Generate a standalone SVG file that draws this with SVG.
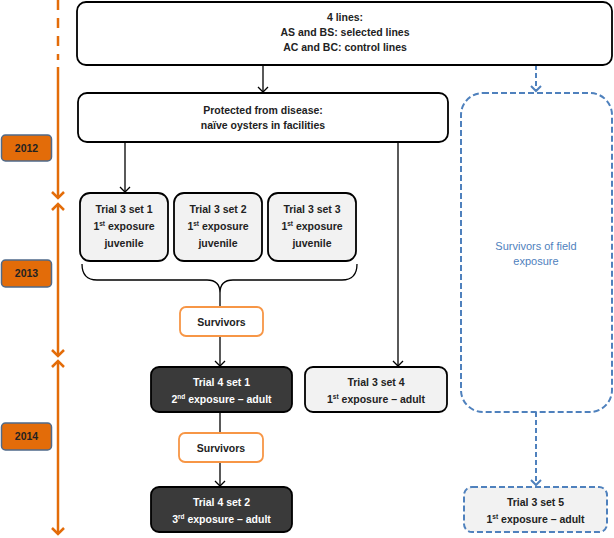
<svg xmlns="http://www.w3.org/2000/svg" width="614" height="538" viewBox="0 0 614 538">
<style>
  text { font-family: "Liberation Sans", Arial, sans-serif; font-weight: bold; font-size: 10.5px; text-anchor: middle; fill: #222; }
  .box { fill: #fff; stroke: #000; stroke-width: 1.8; }
  .trial { fill: #f2f2f2; stroke: #000; stroke-width: 1.8; }
  .dark { fill: #3a3a3a; stroke: #000; stroke-width: 1.8; }
  .dark-t { fill: #fff; }
  .surv { fill: #fff; stroke: #f79646; stroke-width: 1.8; }
  .field { fill: #fff; stroke: #4f81bd; stroke-width: 2; stroke-dasharray: 6,3; }
  .field-t { fill: #4f81bd; font-weight: normal; font-size: 11px; }
  .year { fill: #e36c09; stroke: #4f6a8a; stroke-width: 1.5; }
  .year-t { fill: #222; }
  .conn { fill: none; stroke: #000; stroke-width: 1.3; }
  .bconn { fill: none; stroke: #4f81bd; stroke-width: 2; stroke-dasharray: 5,3; }
  .tl { fill: none; stroke: #e36c09; stroke-width: 2.5; }
  .sup { font-size: 6.5px; }
</style>
<defs>
  <marker id="ah" markerUnits="userSpaceOnUse" markerWidth="12" markerHeight="12" refX="6" refY="6" orient="auto-start-reverse" viewBox="0 0 12 12">
    <path d="M1,1 L6,6 L1,11" fill="none" stroke="#000" stroke-width="1.3"/>
  </marker>
  <marker id="bh" markerUnits="userSpaceOnUse" markerWidth="12" markerHeight="12" refX="6" refY="6" orient="auto-start-reverse" viewBox="0 0 12 12">
    <path d="M1,1 L6,6 L1,11" fill="none" stroke="#4f81bd" stroke-width="2"/>
  </marker>
  <marker id="oh" markerUnits="userSpaceOnUse" markerWidth="14" markerHeight="14" refX="7" refY="7" orient="auto-start-reverse" viewBox="0 0 14 14">
    <path d="M1,1 L7,7 L1,13" fill="none" stroke="#e36c09" stroke-width="2.5"/>
  </marker>
</defs>

<g id="timeline">
  <line class="tl" x1="58" y1="0" x2="58" y2="60" stroke-dasharray="10,8"/>
  <line class="tl" x1="58" y1="67" x2="58" y2="198" marker-end="url(#oh)"/>
  <line class="tl" x1="58" y1="204" x2="58" y2="356" marker-start="url(#oh)" marker-end="url(#oh)"/>
  <line class="tl" x1="58" y1="361" x2="58" y2="534" marker-start="url(#oh)" marker-end="url(#oh)"/>
</g>

<g id="year2012">
  <rect class="year" x="1.5" y="135" width="50" height="26" rx="4"/>
  <text class="year-t" x="26.5" y="152">2012</text>
</g>
<g id="year2013">
  <rect class="year" x="1.5" y="260" width="50" height="27" rx="4"/>
  <text class="year-t" x="26.5" y="277">2013</text>
</g>
<g id="year2014">
  <rect class="year" x="1.5" y="423" width="50" height="27" rx="4"/>
  <text class="year-t" x="26.5" y="440">2014</text>
</g>

<g id="connectors">
  <line class="conn" x1="263" y1="65" x2="263" y2="92" marker-end="url(#ah)"/>
  <line class="conn" x1="125" y1="142" x2="125" y2="192" marker-end="url(#ah)"/>
  <line class="conn" x1="398" y1="142" x2="398" y2="366" marker-end="url(#ah)"/>
  <path class="conn" d="M82,264 Q82,280 97,280 L207,280 Q220,280 220,293 Q220,280 233,280 L342,280 Q357,280 357,264" stroke-width="1.6"/>
  <line class="conn" x1="220" y1="293" x2="220" y2="307"/>
  <line class="conn" x1="220" y1="336" x2="220" y2="366" marker-end="url(#ah)"/>
  <line class="conn" x1="220" y1="412" x2="220" y2="433"/>
  <line class="conn" x1="220" y1="462" x2="220" y2="486" marker-end="url(#ah)"/>
  <line class="bconn" x1="536" y1="65" x2="536" y2="91" marker-end="url(#bh)"/>
  <line class="bconn" x1="536" y1="412" x2="536" y2="485" marker-end="url(#bh)"/>
</g>

<g id="lines4">
  <rect class="box" x="77" y="2" width="535" height="63" rx="9"/>
  <text x="345" y="21">4 lines:</text>
  <text x="345" y="36">AS and BS: selected lines</text>
  <text x="345" y="51">AC and BC: control lines</text>
</g>

<g id="protected">
  <rect class="box" x="78" y="93" width="370" height="49" rx="9"/>
  <text x="263" y="114">Protected from disease:</text>
  <text x="263" y="129">naïve oysters in facilities</text>
</g>

<g id="field">
  <rect class="field" x="461" y="93" width="151" height="319" rx="22"/>
  <text class="field-t" x="536" y="250">Survivors of field</text>
  <text class="field-t" x="536" y="265">exposure</text>
</g>

<g id="t3s1">
  <rect class="trial" x="80" y="193" width="88" height="68" rx="10"/>
  <text x="124" y="213">Trial 3 set 1</text>
  <text x="124" y="230">1<tspan class="sup" dy="-4">st</tspan><tspan dy="4"> exposure</tspan></text>
  <text x="124" y="247">juvenile</text>
</g>
<g id="t3s2">
  <rect class="trial" x="174" y="193" width="88" height="68" rx="10"/>
  <text x="218" y="213">Trial 3 set 2</text>
  <text x="218" y="230">1<tspan class="sup" dy="-4">st</tspan><tspan dy="4"> exposure</tspan></text>
  <text x="218" y="247">juvenile</text>
</g>
<g id="t3s3">
  <rect class="trial" x="268" y="193" width="88" height="68" rx="10"/>
  <text x="312" y="213">Trial 3 set 3</text>
  <text x="312" y="230">1<tspan class="sup" dy="-4">st</tspan><tspan dy="4"> exposure</tspan></text>
  <text x="312" y="247">juvenile</text>
</g>

<g id="survivors1">
  <rect class="surv" x="180" y="307" width="83" height="29" rx="6"/>
  <text x="221.5" y="326">Survivors</text>
</g>

<g id="t4s1">
  <rect class="dark" x="151" y="367" width="141" height="45" rx="8"/>
  <text class="dark-t" x="221.5" y="386">Trial 4 set 1</text>
  <text class="dark-t" x="221.5" y="403">2<tspan class="sup" dy="-4">nd</tspan><tspan dy="4"> exposure – adult</tspan></text>
</g>

<g id="survivors2">
  <rect class="surv" x="179" y="433" width="84" height="29" rx="6"/>
  <text x="221" y="452">Survivors</text>
</g>

<g id="t4s2">
  <rect class="dark" x="151" y="487" width="141" height="45" rx="8"/>
  <text class="dark-t" x="221.5" y="506">Trial 4 set 2</text>
  <text class="dark-t" x="221.5" y="523">3<tspan class="sup" dy="-4">rd</tspan><tspan dy="4"> exposure – adult</tspan></text>
</g>

<g id="t3s4">
  <rect class="trial" x="305" y="367" width="142" height="45" rx="8"/>
  <text x="376" y="386">Trial 3 set 4</text>
  <text x="376" y="403">1<tspan class="sup" dy="-4">st</tspan><tspan dy="4"> exposure – adult</tspan></text>
</g>

<g id="t3s5">
  <rect class="field" x="464" y="487" width="143" height="45" rx="8" style="fill:#f2f2f2"/>
  <text x="535.5" y="506">Trial 3 set 5</text>
  <text x="535.5" y="523">1<tspan class="sup" dy="-4">st</tspan><tspan dy="4"> exposure – adult</tspan></text>
</g>
</svg>
